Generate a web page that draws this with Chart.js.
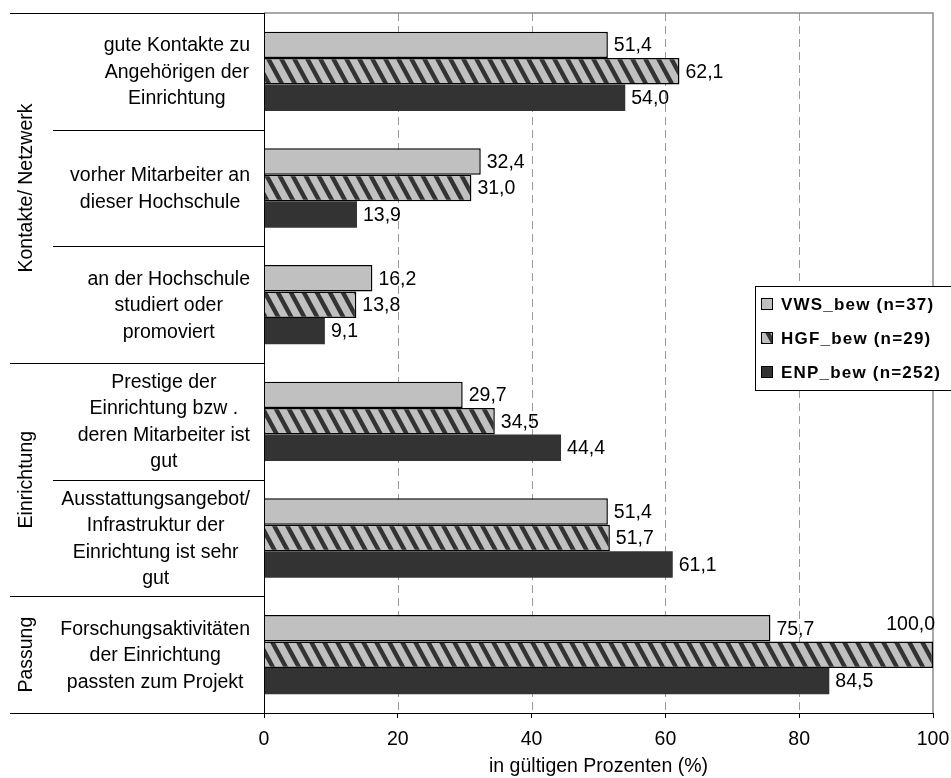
<!DOCTYPE html>
<html>
<head>
<meta charset="utf-8">
<script src="https://cdn.jsdelivr.net/npm/chart.js@4"></script>
<style>
  html, body { margin: 0; padding: 0; background: #fff; }
</style>
</head>
<body>
<canvas id="myChart" width="951" height="778"></canvas>
<script>
// Daten
const categories = [
  ['gute Kontakte zu', 'Angehörigen der', 'Einrichtung'],
  ['vorher Mitarbeiter an', 'dieser Hochschule'],
  ['an der Hochschule', 'studiert oder', 'promoviert'],
  ['Prestige der', 'Einrichtung bzw .', 'deren Mitarbeiter ist', 'gut'],
  ['Ausstattungsangebot/', 'Infrastruktur der', 'Einrichtung ist sehr', 'gut'],
  ['Forschungsaktivitäten', 'der Einrichtung', 'passten zum Projekt']
];
const groupNames = ['Kontakte/ Netzwerk', 'Einrichtung', 'Passung'];
const groupSizes = [3, 2, 1];
const seriesNames = ['VWS_bew (n=37)', 'HGF_bew (n=29)', 'ENP_bew (n=252)'];
const vwsValues = [51.4, 32.4, 16.2, 29.7, 51.4, 75.7];
const hgfValues = [62.1, 31.0, 13.8, 34.5, 51.7, 100.0];
const enpValues = [54.0, 13.9, 9.1, 44.4, 61.1, 84.5];
const xTicks = [0, 20, 40, 60, 80, 100];
const xTitle = 'in gültigen Prozenten (%)';

const FONT = 'Arial, "Liberation Sans", sans-serif';
const canvas = document.getElementById('myChart');
const mainCtx = canvas.getContext('2d');

// Schraffur fuer HGF
function makeHatch() {
  const c = document.createElement('canvas');
  c.width = 13; c.height = 24;
  const g = c.getContext('2d');
  g.fillStyle = '#c0c0c0';
  g.fillRect(0, 0, 13, 24);
  g.fillStyle = '#333333';
  [-13, 0, 13].forEach(dx => {
    g.beginPath();
    g.moveTo(dx, 0);
    g.lineTo(dx + 5, 0);
    g.lineTo(dx + 18, 24);
    g.lineTo(dx + 13, 24);
    g.closePath();
    g.fill();
  });
  return mainCtx.createPattern(c, 'repeat');
}
const hatch = makeHatch();
const fills = ['#c0c0c0', hatch, '#333333'];

function fmt(v) {
  return v.toFixed(1).replace('.', ',');
}

const decor = {
  id: 'decor',
  beforeDatasetsDraw(chart) {
    const { ctx, chartArea: a, scales: { x } } = chart;
    ctx.save();
    // gestrichelte Gitterlinien
    ctx.strokeStyle = '#9a9a9a';
    ctx.lineWidth = 1;
    ctx.setLineDash([8, 5]);
    xTicks.slice(1, -1).forEach(v => {
      const px = Math.round(x.getPixelForValue(v)) + 0.5;
      ctx.beginPath();
      ctx.moveTo(px, a.top);
      ctx.lineTo(px, a.bottom);
      ctx.stroke();
    });
    ctx.setLineDash([]);
    // Rahmen oben/rechts grau
    ctx.strokeStyle = '#8c8c8c';
    ctx.lineWidth = 1.5;
    ctx.beginPath();
    ctx.moveTo(a.left, a.top);
    ctx.lineTo(a.right, a.top);
    ctx.lineTo(a.right, a.bottom);
    ctx.stroke();
    ctx.restore();
  },
  afterDatasetsDraw(chart) {
    const { ctx, chartArea: a } = chart;
    ctx.save();
    ctx.font = '19.5px ' + FONT;
    ctx.fillStyle = '#000';
    ctx.textBaseline = 'middle';
    chart.data.datasets.forEach((ds, d) => {
      chart.getDatasetMeta(d).data.forEach((bar, i) => {
        const txt = fmt(ds.data[i]);
        const w = ctx.measureText(txt).width;
        if (bar.x + 6 + w > chart.width - 4) {
          ctx.textAlign = 'right';
          ctx.fillText(txt, a.right + 2, bar.y - bar.height * 1.12);
        } else {
          ctx.textAlign = 'left';
          ctx.fillText(txt, bar.x + 6, bar.y + 1);
        }
      });
    });
    ctx.restore();
  },
  afterDraw(chart) {
    const { ctx, chartArea: a, scales: { y } } = chart;
    const band = y.getPixelForValue(1) - y.getPixelForValue(0);
    const edge = k => y.getPixelForValue(0) - band / 2 + k * band;
    const groupEdges = [0];
    groupSizes.forEach(s => groupEdges.push(groupEdges[groupEdges.length - 1] + s));

    ctx.save();
    // Trennlinien links
    ctx.strokeStyle = '#000';
    ctx.lineWidth = 1;
    for (let k = 0; k <= categories.length; k++) {
      const py = Math.round(edge(k)) + 0.5;
      const x0 = groupEdges.includes(k) ? 10 : 53;
      ctx.beginPath();
      ctx.moveTo(x0, py);
      ctx.lineTo(a.left, py);
      ctx.stroke();
    }
    // y-Achse
    const ax = Math.round(a.left) + 0.5;
    ctx.beginPath();
    ctx.moveTo(ax, a.top);
    ctx.lineTo(ax, a.bottom + 5);
    ctx.stroke();

    // Kategorien
    ctx.font = '19.5px ' + FONT;
    ctx.fillStyle = '#000';
    ctx.textAlign = 'center';
    ctx.textBaseline = 'middle';
    const lh = 26.5;
    categories.forEach((lines, i) => {
      const maxW = Math.max(...lines.map(l => ctx.measureText(l).width));
      const cx = 250 - maxW / 2;
      const cy = y.getPixelForValue(i) + 1;
      lines.forEach((l, j) => {
        ctx.fillText(l, cx, cy + (j - (lines.length - 1) / 2) * lh);
      });
    });

    // Gruppen (gedreht)
    groupNames.forEach((g, i) => {
      const cy = (edge(groupEdges[i]) + edge(groupEdges[i + 1])) / 2;
      ctx.save();
      ctx.translate(27, cy);
      ctx.rotate(-Math.PI / 2);
      ctx.fillText(g, 0, 0);
      ctx.restore();
    });

    // Legende
    const lx = 755, ly = 286.5;
    ctx.fillStyle = '#fff';
    ctx.fillRect(lx, ly, 220, 104);
    ctx.strokeStyle = '#000';
    ctx.lineWidth = 1;
    ctx.strokeRect(lx + 0.5, ly, 220, 104);
    ctx.font = 'bold 17px ' + FONT;
    ctx.textAlign = 'left';
    if ('letterSpacing' in ctx) ctx.letterSpacing = '1.2px';
    seriesNames.forEach((name, i) => {
      const ry = 304 + i * 34;
      ctx.fillStyle = fills[i];
      ctx.fillRect(761, ry - 6, 12, 12);
      ctx.strokeStyle = '#000';
      ctx.strokeRect(761.5, ry - 5.5, 11, 11);
      ctx.fillStyle = '#000';
      ctx.fillText(name, 781, ry + 1);
    });
    ctx.restore();
  }
};

new Chart(canvas, {
  type: 'bar',
  data: {
    labels: categories.map(l => l.join(' ')),
    datasets: [
      { label: seriesNames[0], data: vwsValues, backgroundColor: fills[0], borderColor: '#000', borderWidth: 1.5 },
      { label: seriesNames[1], data: hgfValues, backgroundColor: fills[1], borderColor: '#000', borderWidth: 1.5 },
      { label: seriesNames[2], data: enpValues, backgroundColor: fills[2], borderWidth: 0 }
    ]
  },
  options: {
    indexAxis: 'y',
    responsive: false,
    devicePixelRatio: 1,
    animation: false,
    layout: { padding: { left: 264, right: 18, top: 13, bottom: 0 } },
    datasets: { bar: { categoryPercentage: 0.68, barPercentage: 1 } },
    plugins: {
      legend: { display: false },
      tooltip: { enabled: false }
    },
    scales: {
      y: { display: false },
      x: {
        min: 0,
        max: 100,
        afterBuildTicks: s => { s.ticks = xTicks.map(v => ({ value: v })); },
        afterFit: s => { s.height = 65; s.paddingLeft = 0; s.paddingRight = 0; },
        ticks: { font: { family: FONT, size: 19.5 }, color: '#000', padding: 10, maxRotation: 0, autoSkip: false },
        grid: { drawOnChartArea: false, drawTicks: true, tickLength: 5, color: '#000', lineWidth: 1 },
        border: { display: true, color: '#000', width: 1 },
        title: { display: true, text: xTitle, font: { family: FONT, size: 19.5 }, color: '#000', padding: { top: 0, bottom: 0 } }
      }
    }
  },
  plugins: [decor]
});
</script>
</body>
</html>
